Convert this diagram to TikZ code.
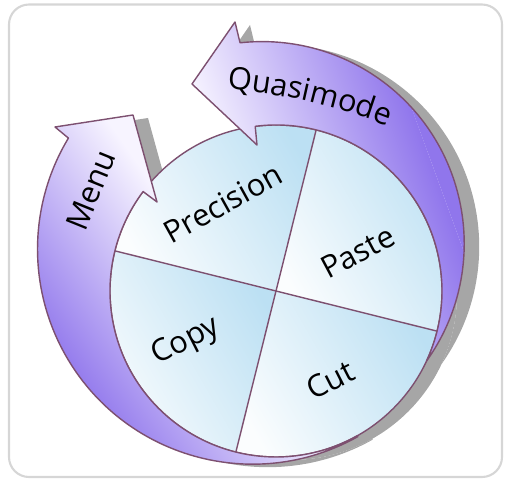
\documentclass[tikz,border=0pt]{standalone}
\usepackage{fontspec}
\setmainfont{Open Sans}
\usetikzlibrary{calc,decorations.text}
\definecolor{rim}{RGB}{125,80,112}
\definecolor{skyA}{RGB}{251,253,254}
\definecolor{skyB}{RGB}{188,224,243}
\definecolor{lilacA}{RGB}{247,244,255}
\definecolor{lilacB}{RGB}{144,118,236}
\definecolor{dropgray}{RGB}{166,166,166}
\definecolor{framegray}{RGB}{214,214,214}
\begin{document}
\begin{tikzpicture}[x=0.02cm,y=0.02cm,
  rimline/.style={draw=rim, line width=0.8pt, line join=round},
  tag/.style={font=\fontsize{17.5}{20}\selectfont, text=black, inner sep=0pt}]
\useasboundingbox (0,0) rectangle (506,-482);
\draw[framegray, line width=1.2pt, rounded corners=0.4cm] (9,-4.5) rectangle (502,-477);

% centres of the wheel and of the two outer arcs
\coordinate (C) at (276,-291);
\coordinate (Cq) at (262,-243.7);
\coordinate (Cm) at (252.51,-249.14);

% outlines of the two arrows
\def\qpath{($(C)+(97.2:166)$) arc[start angle=97.2, end angle=-25, radius=166]
  arc[start angle=-35.6, end angle=96.3, radius=202]
  -- (235,-22) -- (192,-84) -- (257,-145) -- cycle}
\def\mpath{($(C)+(143.2:166)$) arc[start angle=143.2, end angle=299.3, radius=166]
  -- (357.73,-436.64) arc[start angle=299.3, end angle=148.9, radius=215]
  -- (55,-127) -- (133,-115) -- (157,-202) -- cycle}

% drop shadow
\begin{scope}[transform canvas={shift={(15,-3)}}]
  \fill[dropgray] (C) circle[radius=166];
  \fill[dropgray] \qpath;
  \fill[dropgray] \mpath;
\end{scope}

% wheel quadrants
\foreach \a in {-14,76,166,256} {
  \shade[bottom color=skyA, top color=skyB, shading angle=-60]
    (C) -- ($(C)+(\a:166)$) arc[start angle=\a, delta angle=90, radius=166] -- cycle;
}
\draw[rimline] (C) circle[radius=166];
\draw[rimline] ($(C)+(76:166)$) -- ($(C)+(256:166)$);
\draw[rimline] ($(C)+(166:166)$) -- ($(C)+(-14:166)$);

% Quasimode arrow: light at the head, deep violet over the right side
\begin{scope}
  \clip \qpath;
  \fill[lilacA] (0,0) rectangle (506,-482);
  \begin{scope}[transform canvas={rotate around={-70:(C)}}]
    \shade[bottom color=lilacA, top color=lilacB]
      ($(C)+(-400,-10)$) rectangle ($(C)+(400,190)$);
    \fill[lilacB] ($(C)+(-400,190)$) rectangle ($(C)+(400,400)$);
  \end{scope}
\end{scope}
\draw[rimline] \qpath;

% Menu arrow: deep violet low on the left, light at the head
\begin{scope}
  \clip \mpath;
  \fill[lilacA] (0,0) rectangle (506,-482);
  \begin{scope}[transform canvas={rotate around={-55:(C)}}]
    \fill[lilacB] ($(C)+(-400,-400)$) rectangle ($(C)+(400,-220)$);
    \shade[bottom color=lilacB, top color=lilacA]
      ($(C)+(-400,-220)$) rectangle ($(C)+(400,-40)$);
  \end{scope}
\end{scope}
\draw[rimline] \mpath;

% labels
\path[decorate, decoration={text along path, text align=center,
      text={|\fontsize{17.5}{20}\selectfont|Quasimode}}]
  (180,-660) ++(85.5:573) arc[start angle=85.5, end angle=68.5, radius=573];
\node[tag, rotate=68] (menu) at (91,-190) {Menu};
\node[tag, rotate=29] (prec) at (223,-203) {Precision};
\node[tag, rotate=28] (paste) at (358,-252) {Paste};
\node[tag, rotate=27] (copy) at (186,-342) {Copy};
\node[tag, rotate=27] (cut) at (330,-380) {Cut};
\end{tikzpicture}
\end{document}
